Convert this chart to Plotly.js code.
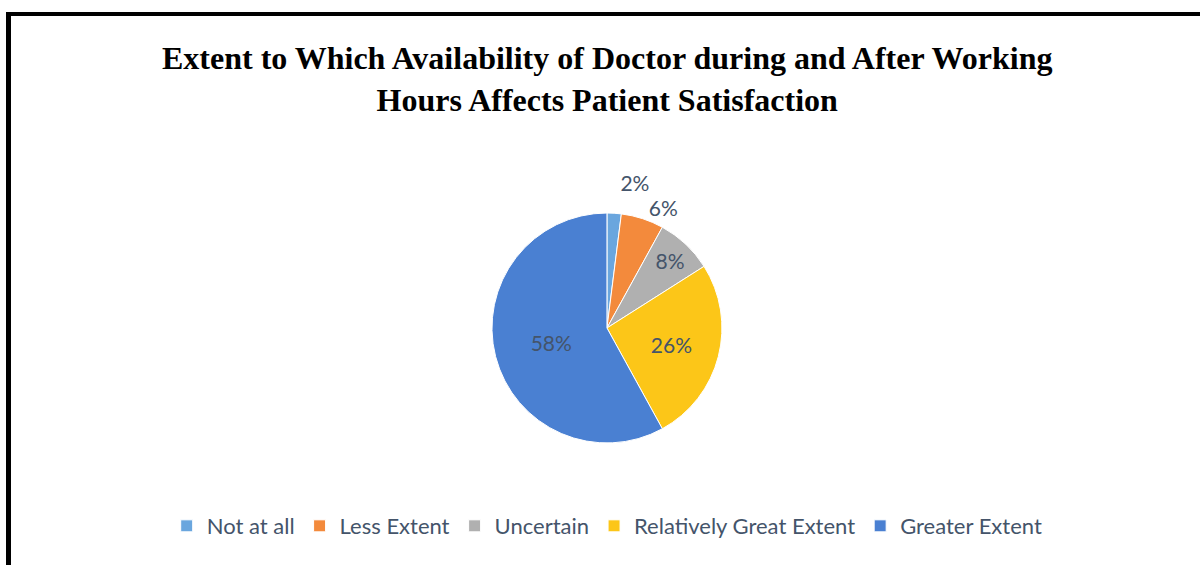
<!DOCTYPE html>
<html>
<head>
<meta charset="utf-8">
<script src="https://cdn.plot.ly/plotly-3.0.1.min.js"></script>
<style>
  html, body { margin: 0; padding: 0; background: #fff; }
  #wrap { position: relative; width: 1200px; height: 565px; overflow: hidden; }
  #chart { position: absolute; left: 0; top: 0; width: 1200px; height: 565px; }
  #frame { position: absolute; left: 6px; top: 12px; width: 1200px; height: 560px;
           border-left: 5px solid #000; border-top: 4px solid #000; pointer-events: none; box-sizing: border-box; }
  path.textline { stroke-opacity: 0 !important; }
</style>
</head>
<body>
<div id="wrap">
  <div id="chart"></div>
  <div id="frame"></div>
</div>
<script>
const categories = ["Not at all", "Less Extent", "Uncertain", "Relatively Great Extent", "Greater Extent"];
const values = [2, 6, 8, 26, 58];
const colors = ["#6aa6de", "#f38a3c", "#b0b0b0", "#fcc618", "#4a80d2"];
const textPositions = ["outside", "outside", "inside", "inside", "inside"];
const titleText = "Extent to Which Availability of Doctor during and After Working<br>Hours Affects Patient Satisfaction";

const trace = {
  type: "pie",
  labels: categories,
  values: values,
  sort: false,
  direction: "clockwise",
  rotation: 0,
  marker: { colors: colors, line: { color: "#ffffff", width: 1 } },
  textinfo: "percent",
  texttemplate: "%{percent:.0%}",
  textposition: textPositions,
  insidetextorientation: "horizontal",
  textfont: { family: "Lato, 'Open Sans', sans-serif", size: 21, color: "#44546a" },
  outsidetextfont: { family: "Lato, 'Open Sans', sans-serif", size: 21, color: "#44546a" },
  automargin: false,
  hoverinfo: "label+percent",
  domain: { x: [0.40, 0.6116], y: [0.216, 0.623] }
};

const layout = {
  width: 1200,
  height: 565,
  paper_bgcolor: "#ffffff",
  plot_bgcolor: "#ffffff",
  margin: { l: 0, r: 0, t: 0, b: 0 },
  title: {
    text: titleText,
    font: { family: "'Liberation Serif', 'Times New Roman', serif", size: 32, color: "#000000", weight: "bold" },
    x: 0.506, xanchor: "center", xref: "paper",
    y: 0.877, yanchor: "top", yref: "container"
  },
  showlegend: true,
  legend: {
    orientation: "h",
    x: 0.506, xanchor: "center",
    y: 0.069, yanchor: "middle",
    font: { family: "Lato, 'Open Sans', sans-serif", size: 22, color: "#44546a" },
    traceorder: "normal"
  }
};

Plotly.newPlot("chart", [trace], layout, { displayModeBar: false, staticPlot: true });
</script>
</body>
</html>
